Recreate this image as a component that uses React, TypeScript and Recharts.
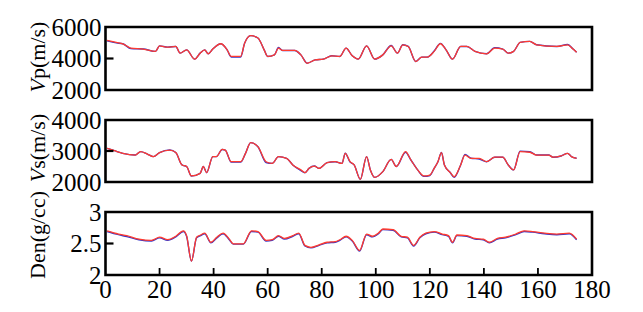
import React from "react";
import { LineChart, Line, XAxis, YAxis, ReferenceArea, Label } from "recharts";

// ---- Vp panel ----
const vpDepth = [0.6,4,6.4,9.4,14,18.5,20,23,26,27.6,30,33,35,36.7,38,39.7,42.7,45,46.5,50,51.5,53.7,56.4,58.7,60,62.5,64,65.5,70,72.3,74.6,77.6,80.6,83.7,86.7,89,91.3,93.5,96.6,99.6,102.6,105.7,108,110,112,114.8,117,119,121.6,123.9,126,128.4,131.4,133.7,136.7,141,144,147,149,151,153.4,157,159.5,167,171,173,174.3];
const vpRed = [5150,5020,4935,4660,4600,4450,4800,4720,4765,4340,4550,3960,4340,4550,4300,4600,4935,4550,4130,4130,4980,5450,5300,4550,4130,4230,4660,4510,4510,4230,3700,3915,3960,4170,4130,4660,4170,3960,4800,3960,4230,4800,4340,4870,4765,3810,4085,4085,4450,4935,4550,3960,4765,4765,4450,4300,4660,4600,4340,4450,5020,5085,4870,4765,4870,4600,4400];
const vpBlue = [5120,4990,4935,4630,4600,4450,4800,4720,4765,4340,4550,3960,4340,4550,4300,4600,4935,4550,4100,4100,4980,5450,5300,4550,4130,4230,4700,4510,4510,4230,3700,3915,3960,4170,4130,4660,4170,3960,4800,3960,4230,4830,4340,4870,4765,3810,4085,4085,4470,4960,4550,3960,4765,4765,4450,4300,4690,4600,4340,4450,5020,5085,4870,4765,4890,4600,4400];

// ---- Vs panel ----
const vsDepth = [0.6,3.3,6.4,11,13,15.5,17.7,20,23.8,26,28.3,30,31.8,35,36.2,37.4,39.7,41,43.2,44.3,46.5,50,51.8,53.7,56.4,59.4,61.7,64,67,69.3,72.3,73.8,75.3,77.3,79,82,85,87.5,88.7,90.5,92,94.3,96.6,98,99.6,102.6,105.7,107.6,111,113,115.5,117.8,120,121.6,123,124.3,125.4,127.6,129,131.4,133,135.2,138.3,141,144,147,149,151,153.4,157,159.5,164,165.6,168.6,171,172.4,174.3];
const vsRed = [3086,3010,2925,2870,2980,2900,2820,2950,3030,2950,2550,2500,2195,2280,2500,2300,2820,2820,3050,3030,2655,2655,2925,3270,3140,2655,2600,2820,2765,2550,2390,2300,2440,2515,2440,2625,2655,2600,2925,2655,2550,2085,2820,2390,2150,2335,2730,2500,2980,2710,2390,2195,2225,2440,2655,2950,2550,2300,2170,2550,2870,2765,2765,2655,2800,2800,2550,2390,2980,2960,2870,2870,2800,2840,2925,2820,2765];
const vsBlue = [3086,3010,2925,2870,2980,2900,2820,2950,3030,2950,2550,2500,2195,2280,2500,2300,2820,2820,3050,3030,2640,2640,2925,3270,3140,2630,2600,2820,2765,2550,2370,2300,2440,2515,2440,2625,2655,2600,2925,2640,2550,2085,2820,2390,2150,2335,2730,2500,2960,2710,2390,2180,2210,2440,2655,2950,2550,2300,2150,2550,2890,2765,2740,2655,2800,2800,2550,2390,2995,2975,2870,2870,2800,2840,2925,2820,2765];

// ---- Density panel ----
const denDepth = [0.6,4.8,7.9,12.4,17,20,23,26,28.8,30,31.8,33.7,35.2,36.7,39,41.2,43.5,45.8,47.3,51,54,56.4,59.4,61.7,64,66.2,69.3,71.5,73.8,76,79,82,85,86.7,89,91.3,94,96.6,98.8,101,102.6,106.4,109.4,111.7,114,116.3,118.5,121.6,124.6,126.9,128.4,130,133.7,136.7,139.8,142,145,148,151.8,154.9,158,162.5,167,171.6,174.3];
const denRed = [2.70,2.65,2.625,2.57,2.55,2.60,2.56,2.615,2.70,2.625,2.22,2.60,2.635,2.665,2.52,2.60,2.665,2.57,2.495,2.495,2.70,2.69,2.55,2.56,2.625,2.58,2.625,2.665,2.47,2.44,2.48,2.52,2.53,2.56,2.615,2.55,2.39,2.65,2.615,2.665,2.73,2.72,2.615,2.60,2.47,2.60,2.665,2.69,2.65,2.625,2.52,2.635,2.625,2.58,2.57,2.52,2.58,2.60,2.65,2.70,2.69,2.665,2.65,2.665,2.57];
const denBlue = [2.69,2.64,2.61,2.56,2.54,2.59,2.55,2.605,2.69,2.615,2.22,2.59,2.625,2.655,2.51,2.59,2.655,2.56,2.49,2.49,2.69,2.68,2.54,2.55,2.615,2.57,2.615,2.655,2.46,2.43,2.47,2.51,2.52,2.55,2.605,2.54,2.38,2.64,2.605,2.655,2.72,2.71,2.605,2.59,2.46,2.59,2.655,2.68,2.64,2.615,2.51,2.625,2.615,2.57,2.56,2.51,2.57,2.59,2.64,2.69,2.68,2.655,2.64,2.655,2.56];

const xTicks = [0, 20, 40, 60, 80, 100, 120, 140, 160, 180];
const vpTicks = [2000, 4000, 6000];
const vsTicks = [2000, 3000, 4000];
const denTicks = [2, 2.5, 3];

const RED = "#ff3b2e";
const BLUE = "#3434c8";
const FONT = "'Liberation Serif', 'Times New Roman', serif";
const FS = 25;
const LFS = 22;

const zip = (d: number[], r: number[], b: number[]) =>
  d.map((x, i) => ({ x, red: r[i], blue: b[i] }));

const makeYTick = (mid: number) => (props: any) => {
  const { x, y, payload } = props;
  return (
    <g>
      <text x={x - 4} y={y} dy="0.35em" textAnchor="end" fontFamily={FONT} fontSize={FS} fill="#000">
        {String(payload.value)}
      </text>
      {payload.value === mid ? (
        <line x1={x} x2={x + 8} y1={y} y2={y} stroke="#000" strokeWidth={2.2} />
      ) : null}
    </g>
  );
};

const XTick = (props: any) => {
  const { x, y, payload } = props;
  const edge = payload.value === 0 || payload.value === 180;
  return (
    <g>
      {!edge ? <line x1={x} x2={x} y1={y} y2={y - 7} stroke="#000" strokeWidth={1.8} /> : null}
      <text x={x} y={y + 23} textAnchor="middle" fontFamily={FONT} fontSize={FS} fill="#000">
        {String(payload.value)}
      </text>
    </g>
  );
};

const makeYLabel = (main: string, italic: string, cy: number) => () => {
  const cx = 37;
  return (
    <text
      x={cx}
      y={cy}
      transform={`rotate(-90 ${cx} ${cy})`}
      textAnchor="middle"
      dominantBaseline="central"
      fontFamily={FONT}
      fontSize={LFS}
      fill="#000"
    >
      {italic ? <tspan fontStyle="italic">{italic}</tspan> : null}
      <tspan>{main}</tspan>
    </text>
  );
};

type PanelProps = {
  top: number;
  height: number;
  marginTop: number;
  marginBottom: number;
  data: any[];
  domain: [number, number];
  ticks: number[];
  mid: number;
  labelMain: string;
  labelItalic: string;
  labelY: number;
  showX: boolean;
};

const Panel = (p: PanelProps) => (
  <div style={{ position: "absolute", left: 0, top: p.top }}>
    <LineChart
      width={643}
      height={p.height}
      data={p.data}
      margin={{ top: p.marginTop, right: 51, bottom: p.marginBottom, left: 5.5 }}
    >
      <XAxis
        dataKey="x"
        type="number"
        domain={[0, 180]}
        ticks={xTicks}
        hide={!p.showX}
        axisLine={false}
        tickLine={false}
        tickSize={0}
        tickMargin={0}
        height={p.showX ? 30 : 0}
        tick={<XTick />}
        interval={0}
      />
      <YAxis
        type="number"
        domain={p.domain}
        ticks={p.ticks}
        axisLine={false}
        tickLine={false}
        tickSize={0}
        tickMargin={0}
        width={100}
        tick={makeYTick(p.mid)}
        interval={0}
        allowDataOverflow
      >
        <Label content={makeYLabel(p.labelMain, p.labelItalic, p.labelY)} />
      </YAxis>
      <Line dataKey="blue" type="monotone" stroke={BLUE} strokeWidth={1.4} dot={false} isAnimationActive={false} />
      <Line dataKey="red" type="monotone" stroke={RED} strokeWidth={1.3} dot={false} isAnimationActive={false} />
      <ReferenceArea
        x1={0}
        x2={180}
        y1={p.domain[0]}
        y2={p.domain[1]}
        fill="none"
        fillOpacity={0}
        stroke="#000"
        strokeWidth={2.6}
        ifOverflow="extendDomain"
      />
    </LineChart>
  </div>
);

export default function App() {
  return (
    <div style={{ position: "absolute", left: 0, top: 0, width: 643, height: 312, background: "#fff" }}>
      <Panel
        top={0}
        height={112}
        marginTop={27}
        marginBottom={22}
        data={zip(vpDepth, vpRed, vpBlue)}
        domain={[2000, 6000]}
        ticks={vpTicks}
        mid={4000}
        labelMain="p(m/s)"
        labelItalic="V"
        labelY={57}
        showX={false}
      />
      <Panel
        top={100}
        height={100}
        marginTop={20}
        marginBottom={18}
        data={zip(vsDepth, vsRed, vsBlue)}
        domain={[2000, 4000]}
        ticks={vsTicks}
        mid={3000}
        labelMain="s(m/s)"
        labelItalic="V"
        labelY={48}
        showX={false}
      />
      <Panel
        top={180}
        height={132}
        marginTop={32}
        marginBottom={7}
        data={zip(denDepth, denRed, denBlue)}
        domain={[2, 3]}
        ticks={denTicks}
        mid={2.5}
        labelMain="Den(g/cc)"
        labelItalic=""
        labelY={55}
        showX={true}
      />
    </div>
  );
}
